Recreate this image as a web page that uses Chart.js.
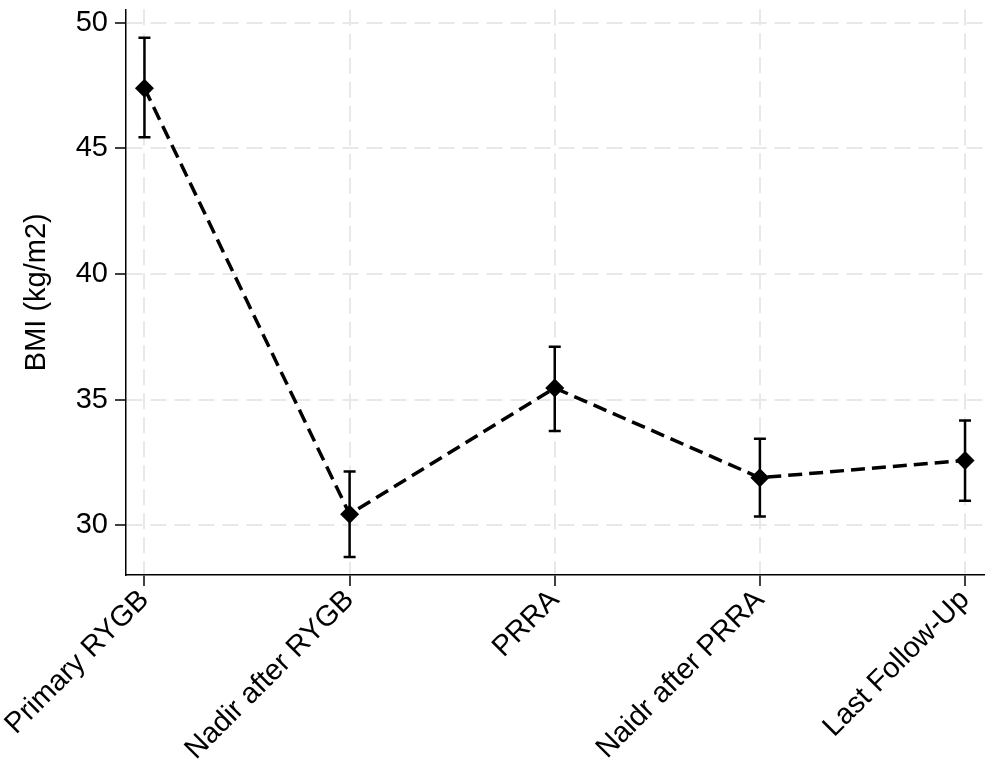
<!DOCTYPE html>
<html>
<head>
<meta charset="utf-8">
<script src="https://cdn.jsdelivr.net/npm/chart.js@4"></script>
<style>
  body { margin: 0; background: #fff; }
</style>
</head>
<body>
<canvas id="chart" width="993" height="762"></canvas>
<script>
var categories = ['Primary RYGB', 'Nadir after RYGB', 'PRRA', 'Naidr after PRRA', 'Last Follow-Up'];
var bmiMean = [47.39, 30.44, 35.46, 31.89, 32.58];
var bmiLow = [45.44, 28.74, 33.75, 30.35, 30.97];
var bmiHigh = [49.40, 32.14, 37.10, 33.44, 34.17];
var yTicks = [30, 35, 40, 45, 50];

var font = { family: "'Liberation Sans', Arial, sans-serif", size: 29 };

// error bars, drawn under the line and markers
var errorBars = {
  id: 'errorBars',
  beforeDatasetsDraw: function (chart) {
    var ctx = chart.ctx;
    var xs = chart.scales.x, ys = chart.scales.y;
    ctx.save();
    ctx.strokeStyle = '#000';
    ctx.lineWidth = 2.5;
    for (var i = 0; i < categories.length; i++) {
      var x = xs.getPixelForValue(i);
      var yl = ys.getPixelForValue(bmiLow[i]);
      var yh = ys.getPixelForValue(bmiHigh[i]);
      ctx.beginPath();
      ctx.moveTo(x, yl); ctx.lineTo(x, yh);
      ctx.moveTo(x - 6, yl); ctx.lineTo(x + 6, yl);
      ctx.moveTo(x - 6, yh); ctx.lineTo(x + 6, yh);
      ctx.stroke();
    }
    ctx.restore();
  }
};

var config = {
  type: 'line',
  data: {
    datasets: [{
      data: bmiMean.map(function (v, i) { return { x: i, y: v }; }),
      borderColor: '#000',
      borderWidth: 3.5,
      borderDash: [14, 7],
      pointStyle: 'rectRot',
      pointRadius: 9.5,
      pointBackgroundColor: '#000',
      pointBorderWidth: 0,
      tension: 0
    }]
  },
  options: {
    responsive: false,
    animation: false,
    layout: { padding: { top: 0, right: 8, left: 0, bottom: 0 } },
    plugins: { legend: { display: false }, tooltip: { enabled: false } },
    scales: {
      x: {
        type: 'linear',
        min: -0.09,
        max: 4.09,
        afterBuildTicks: function (scale) {
          scale.ticks = categories.map(function (c, i) { return { value: i }; });
        },
        afterFit: function (scale) {
          scale.height = 187;
          scale.paddingLeft = 0;
          scale.paddingRight = 0;
        },
        ticks: {
          autoSkip: false,
          minRotation: 45,
          maxRotation: 45,
          color: '#000',
          font: font,
          padding: -3,
          callback: function (v) { return categories[v]; }
        },
        grid: {
          color: '#e8e8e8',
          lineWidth: 2,
          tickColor: '#000',
          tickWidth: 1.5,
          tickLength: 11
        },
        border: { color: '#000', width: 1.5, dash: [16, 8] }
      },
      y: {
        min: 28.02,
        max: 50.52,
        afterBuildTicks: function (scale) {
          scale.ticks = yTicks.map(function (v) { return { value: v }; });
        },
        afterFit: function (scale) {
          scale.width = 126;
          scale.paddingTop = 0;
          scale.paddingBottom = 0;
        },
        ticks: {
          color: '#000',
          font: font,
          padding: 7
        },
        grid: {
          color: '#e8e8e8',
          lineWidth: 2,
          tickColor: '#000',
          tickWidth: 1.5,
          tickLength: 11
        },
        border: { color: '#000', width: 1.5, dash: [16, 8] },
        title: {
          display: true,
          text: 'BMI (kg/m2)',
          color: '#000',
          font: font,
          padding: { top: 20, bottom: 0 }
        }
      }
    }
  },
  plugins: [errorBars]
};

window.onload = function () {
  var ctx = document.getElementById('chart').getContext('2d');
  window.bmiChart = new Chart(ctx, config);
};
</script>
</body>
</html>
